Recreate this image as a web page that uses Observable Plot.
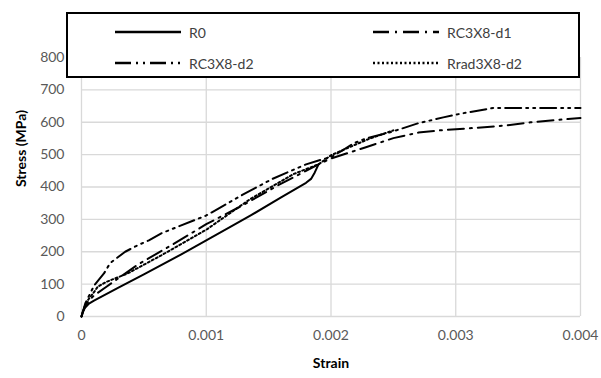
<!DOCTYPE html>
<html>
<head>
<meta charset="utf-8">
<script src="https://cdn.jsdelivr.net/npm/d3@7"></script>
<script src="https://cdn.jsdelivr.net/npm/@observablehq/plot@0.6"></script>
<style>
  body { margin: 0; background: #fff; }
  #wrap { position: relative; width: 601px; height: 378px; font-family: Lato, "Open Sans", sans-serif; }
  #legend { position: absolute; left: 66px; top: 12px; width: 514px; height: 66px; box-sizing: border-box;
            border: 2px solid #000; background: #fff; }
  .item { position: absolute; display: flex; align-items: center; font-size: 14px; color: #404040; }
  .item svg { margin-right: 8px; }
</style>
</head>
<body>
<div id="wrap"></div>
<script>
// ---- data ----
const seriesNames = ["R0", "RC3X8-d1", "RC3X8-d2", "Rrad3X8-d2"];

const r0Strain = [0, 0.00001, 0.00003, 0.00006, 0.0001, 0.0003, 0.0005, 0.0008, 0.001, 0.0012, 0.00136, 0.0016, 0.0018, 0.00184, 0.00187, 0.0019];
const r0Stress = [0, 15, 28, 40, 49, 90, 130, 192, 235, 278, 313, 368, 413, 425, 445, 470];

const d1Strain = [0, 0.00003, 0.0001, 0.0002, 0.00045, 0.00072, 0.001, 0.0013, 0.00157, 0.0018, 0.0019, 0.002, 0.00216, 0.00228, 0.0025, 0.0027, 0.0029, 0.0031, 0.0034, 0.0036, 0.0039, 0.004];
const d1Stress = [0, 35, 65, 92, 160, 220, 285, 345, 404, 450, 470, 488, 508, 523, 551, 568, 576, 581, 590, 600, 610, 613];

const d2Strain = [0, 0.00003, 0.0001, 0.00018, 0.00023, 0.00035, 0.00045, 0.00054, 0.00064, 0.001, 0.0013, 0.00153, 0.0018, 0.0019, 0.002, 0.0021, 0.00218, 0.00229, 0.0025, 0.0027, 0.0029, 0.00306, 0.0033, 0.004];
const d2Stress = [0, 40, 95, 133, 165, 200, 220, 235, 257, 312, 378, 425, 470, 482, 492, 515, 535, 551, 572, 597, 615, 628, 644, 644];

const radStrain = [0, 0.00002, 0.00005, 0.0001, 0.00013, 0.0002, 0.00037, 0.00064, 0.001, 0.00135, 0.0017, 0.0019, 0.002, 0.0021, 0.0023, 0.0025];
const radStress = [0, 25, 50, 75, 92, 107, 133, 189, 268, 362, 440, 470, 498, 515, 548, 575];

const xTicks = [0, 0.001, 0.002, 0.003, 0.004];
const yTicks = [0, 100, 200, 300, 400, 500, 600, 700, 800];

const dashes = ["none", "16,6,2,6", "16,5,2,5,2,5", "2,2.5"];

// ---- build tables ----
const toRows = (xs, ys, name) => xs.map((x, i) => ({strain: x, stress: ys[i], series: name}));
const all = [
  toRows(r0Strain, r0Stress, seriesNames[0]),
  toRows(d1Strain, d1Stress, seriesNames[1]),
  toRows(d2Strain, d2Stress, seriesNames[2]),
  toRows(radStrain, radStress, seriesNames[3])
];

const fmt = d => d === 0 ? "0" : d3.format(".3f")(d);

const chart = Plot.plot({
  width: 601,
  height: 378,
  marginLeft: 81,
  marginRight: 21,
  marginTop: 57,
  marginBottom: 62,
  style: {fontFamily: "Lato, 'Open Sans', sans-serif", fontSize: "14px", color: "#595959", background: "#fff"},
  x: {domain: [0, 0.004], label: null},
  y: {domain: [0, 800], label: null},
  marks: [
    Plot.gridX(xTicks, {stroke: "#d9d9d9", strokeOpacity: 1, strokeWidth: 1.3}),
    Plot.gridY(yTicks, {stroke: "#d9d9d9", strokeOpacity: 1, strokeWidth: 1.3}),
    Plot.axisX({ticks: xTicks, tickFormat: fmt, tickSize: 0, tickPadding: 14, fill: "#595959", label: null}),
    Plot.axisY({ticks: yTicks, tickSize: 0, tickPadding: 17, fill: "#595959", label: null}),
    ...all.map((rows, i) => Plot.line(rows, {x: "strain", y: "stress", stroke: "#000", strokeWidth: 2, strokeDasharray: dashes[i], strokeLinejoin: "round"})),
    Plot.text(["Strain"], {frameAnchor: "bottom", dy: 51, fontWeight: "bold", fill: "#000", fontSize: 14}),
    Plot.text(["Stress (MPa)"], {frameAnchor: "left", dx: -60, rotate: -90, fontWeight: "bold", fill: "#000", fontSize: 14})
  ]
});

const wrap = document.getElementById("wrap");
wrap.appendChild(chart);

// legend overlay
const legend = document.createElement("div");
legend.id = "legend";
const pos = [[47, 20], [305, 20], [47, 51], [305, 51]];
seriesNames.forEach((name, i) => {
  const it = document.createElement("div");
  it.className = "item";
  it.style.left = pos[i][0] + "px";
  it.style.top = (pos[i][1] - 12) + "px";
  it.style.height = "20px";
  const da = dashes[i] === "none" ? "" : `stroke-dasharray="${dashes[i]}"`;
  it.innerHTML = `<svg width="66" height="6"><line x1="0" y1="3" x2="66" y2="3" stroke="#000" stroke-width="2.5" ${da}/></svg><span>${name}</span>`;
  legend.appendChild(it);
});
wrap.appendChild(legend);
</script>
</body>
</html>
